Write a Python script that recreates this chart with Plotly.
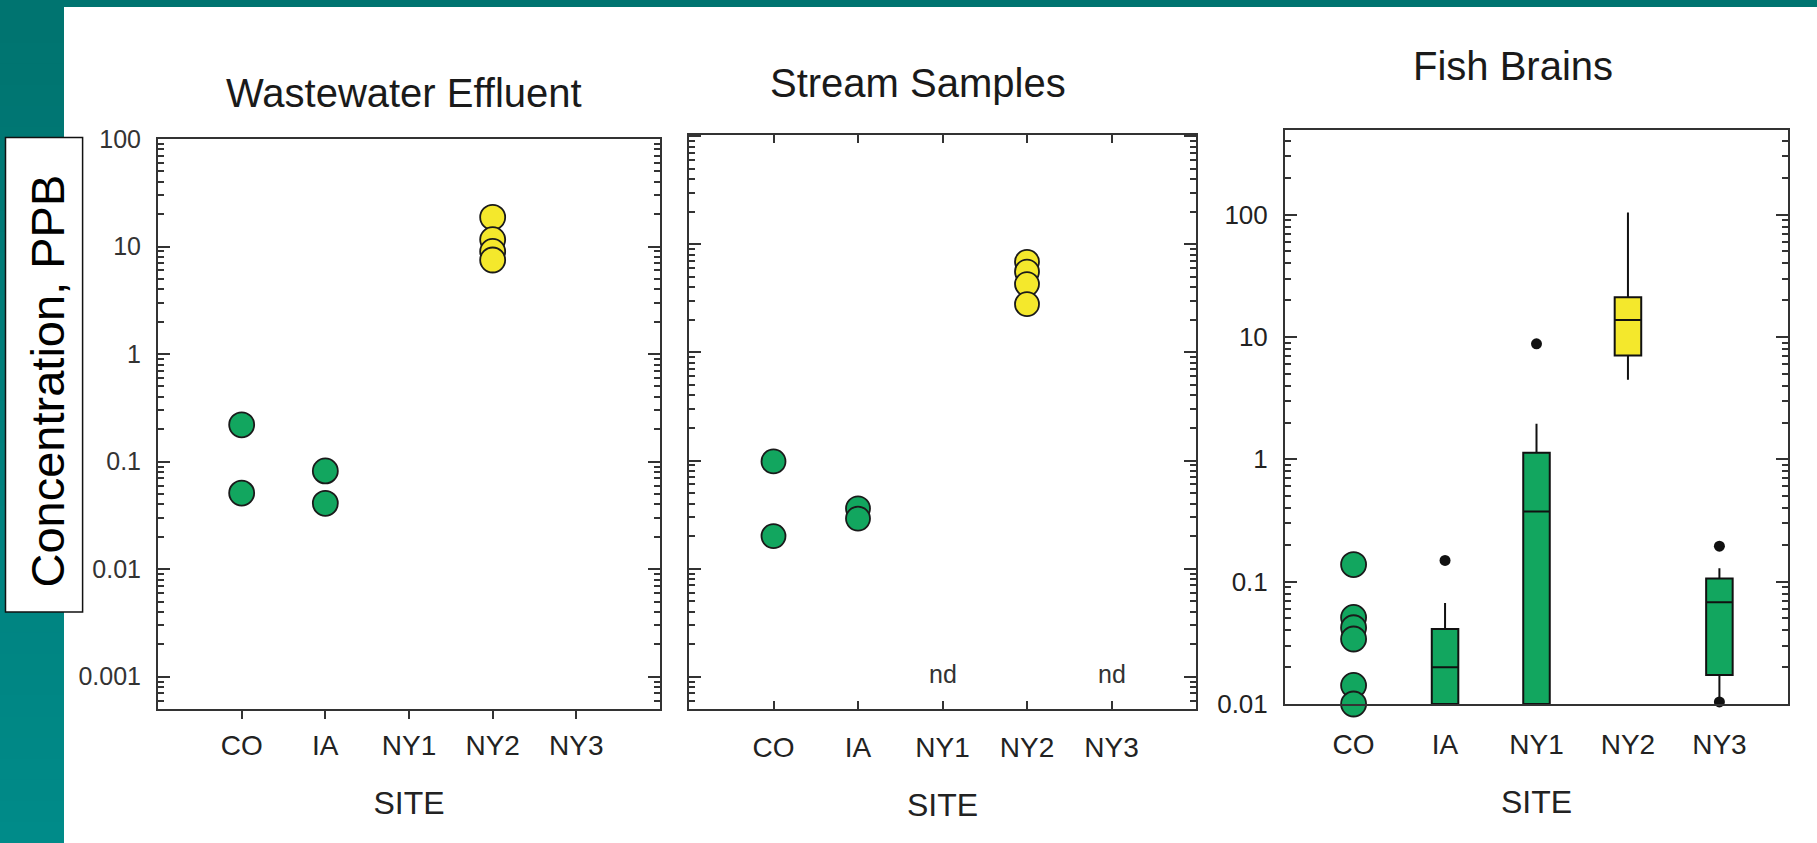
import numpy as np
import plotly.graph_objects as go

W, H = 1817, 843

sites = ["CO", "IA", "NY1", "NY2", "NY3"]

# ---- Wastewater effluent (ppb)
ww_co = [0.22, 0.051]
ww_ia = [0.082, 0.041]
ww_ny2 = [18.7, 11.6, 9.0, 7.5]

# ---- Stream samples (ppb)
st_co = [0.098, 0.020]
st_ia = [0.036, 0.029]
st_ny2 = [6.9, 5.6, 4.3, 2.8]
st_nd_sites = ["NY1", "NY3"]
st_nd_level = 0.00105

# ---- Fish brains (ppb)
fb_co = [0.138, 0.051, 0.042, 0.034, 0.0142, 0.0100]
fb_box_sites = ["IA", "NY1", "NY2", "NY3"]
fb_q1 = [0.01, 0.01, 7.05, 0.0173]
fb_median = [0.020, 0.375, 13.8, 0.068]
fb_q3 = [0.041, 1.13, 21.1, 0.106]
fb_lowerfence = [0.01, 0.01, 4.47, 0.0105]
fb_upperfence = [0.067, 1.95, 104.0, 0.129]
fb_out_sites = ["IA", "NY1", "NY3", "NY3"]
fb_out_vals = [0.149, 8.8, 0.195, 0.0104]

titles = ["Wastewater Effluent", "Stream Samples", "Fish Brains"]
ytitle = "Concentration, PPB"
xtitle = "SITE"

GREEN = "#12A65F"
YELLOW = "#F4E82C"
EDGE = "#1a1a1a"
AX = "#333333"
FONT = "Liberation Sans, Arial, sans-serif"


def site_color(s):
    return YELLOW if s == "NY2" else GREEN


def px(x):
    return x / W


def py(y):
    return 1 - y / H


fig = go.Figure()


def dots(xs_site, vals, xa, ya, size):
    fig.add_trace(go.Scatter(
        x=[xs_site] * len(vals), y=vals, mode="markers",
        xaxis=xa, yaxis=ya, cliponaxis=False, showlegend=False,
        marker=dict(size=size, color=site_color(xs_site),
                    line=dict(color=EDGE, width=1.8))))


# Panel 1
dots("CO", ww_co, "x", "y", 25)
dots("IA", ww_ia, "x", "y", 25)
dots("NY2", ww_ny2, "x", "y", 25)

# Panel 2
dots("CO", st_co, "x2", "y2", 24)
dots("IA", st_ia, "x2", "y2", 24)
dots("NY2", st_ny2, "x2", "y2", 24)

# Panel 3
dots("CO", fb_co, "x3", "y3", 25)
for i, s in enumerate(fb_box_sites):
    fig.add_trace(go.Box(
        x=[s], q1=[fb_q1[i]], median=[fb_median[i]], q3=[fb_q3[i]],
        lowerfence=[fb_lowerfence[i]], upperfence=[fb_upperfence[i]],
        xaxis="x3", yaxis="y3", boxpoints=False, whiskerwidth=0,
        width=0.29, fillcolor=site_color(s), showlegend=False,
        line=dict(color="#111111", width=2)))
fig.add_trace(go.Scatter(
    x=fb_out_sites, y=fb_out_vals, mode="markers", xaxis="x3", yaxis="y3",
    cliponaxis=False, showlegend=False,
    marker=dict(size=11, color="#111111")))

# ---- axes
minor_vals = [m * 10.0 ** d for d in range(-4, 3) for m in range(2, 10)]
major_lr = [0.001, 0.01, 0.1, 1, 10, 100]
major_lr_txt = ["0.001", "0.01", "0.1", "1", "10", "100"]
major_fb = [0.01, 0.1, 1, 10, 100]
major_fb_txt = ["0.01", "0.1", "1", "10", "100"]


def yax(dom, anchor, rng, tv, tt, show_labels=True):
    return dict(
        domain=dom, anchor=anchor, type="log", range=rng,
        tickmode="array", tickvals=tv, ticktext=tt,
        ticks="inside", ticklen=12, tickwidth=2, tickcolor=AX,
        mirror="ticks", showline=True, linewidth=2, linecolor=AX,
        showgrid=False, zeroline=False, showticklabels=show_labels,
        tickfont=dict(family=FONT, size=25, color=AX),
        ticklabelstandoff=10, automargin=False,
        minor=dict(tickmode="array", tickvals=minor_vals, ticks="inside",
                   ticklen=6, tickwidth=1.5, tickcolor=AX, showgrid=False))


def xax(dom, anchor, rng, ticks, mirror, standoff_lab, standoff_title):
    return dict(
        domain=dom, anchor=anchor, type="category", categoryorder="array",
        categoryarray=sites, tickmode="array", tickvals=sites, range=rng,
        ticks=ticks, ticklen=8, tickwidth=2, tickcolor=AX,
        showline=True, linewidth=2, linecolor=AX, mirror=mirror,
        showgrid=False, zeroline=False, automargin=False,
        tickfont=dict(family=FONT, size=28, color="#222222"),
        ticklabelstandoff=standoff_lab,
        title=dict(text=xtitle, font=dict(family=FONT, size=32, color="#222222"),
                   standoff=standoff_title))


d1x = [px(158), px(660)]
d2x = [px(689), px(1196)]
d3x = [px(1285), px(1788)]
d1y = [py(709), py(139)]
d2y = [py(709), py(135)]
d3y = [py(704), py(130)]

fig.update_layout(
    xaxis=xax(d1x, "y", [-1, 5], "outside", True, 2, 32),
    yaxis=yax(d1y, "x", [-3.30, 2.0], major_lr, major_lr_txt),
    xaxis4=dict(overlaying="x", anchor="y", side="top", type="category",
                categoryorder="array", categoryarray=sites, tickmode="array",
                tickvals=sites, range=[-1, 5], ticks="inside", ticklen=8,
                tickwidth=2, tickcolor=AX, showticklabels=False, automargin=False,
                showline=False, showgrid=False, zeroline=False),
    xaxis2=xax(d2x, "y2", [-1, 5], "inside", "ticks", 12, 32),
    yaxis2=yax(d2y, "x2", [-3.30, 2.013], major_lr, major_lr_txt, False),
    xaxis3=xax(d3x, "y3", [-0.75, 4.75], "", True, 14, 32),
    yaxis3=yax(d3y, "x3", [-2.0, 2.692], major_fb, major_fb_txt),
)
fig.layout.yaxis3.tickfont.color = "#222222"
fig.layout.yaxis3.tickfont.size = 26

# ---- decorations: teal frame of the slide
shapes = []
top_c = np.array([0, 116, 112])
bot_c = np.array([0, 139, 137])
nb = 40
for i in range(nb):
    c = top_c + (bot_c - top_c) * i / (nb - 1)
    shapes.append(dict(type="rect", xref="paper", yref="paper",
                       x0=0, x1=px(64), y0=py(H * (i + 1) / nb + 1), y1=py(H * i / nb),
                       fillcolor="rgb(%d,%d,%d)" % tuple(c), line=dict(width=0),
                       layer="below"))
shapes.append(dict(type="rect", xref="paper", yref="paper", x0=0, x1=1,
                   y0=py(7), y1=1, fillcolor="rgb(0,116,112)",
                   line=dict(width=0), layer="below"))
shapes.append(dict(type="rect", xref="paper", yref="paper",
                   x0=px(5.5), x1=px(82.6), y0=py(612), y1=py(137.6),
                   fillcolor="white", line=dict(color="#111111", width=1.5),
                   layer="below"))

annotations = []
title_pos = [(404, 93), (918, 83), (1513, 66)]
for t, (x, y) in zip(titles, title_pos):
    annotations.append(dict(text=t, xref="paper", yref="paper", x=px(x), y=py(y),
                            xanchor="center", yanchor="middle", showarrow=False,
                            font=dict(family=FONT, size=40, color="#1a1a1a")))
annotations.append(dict(text=ytitle, xref="paper", yref="paper", x=px(47), y=py(381.5),
                        xanchor="center", yanchor="middle", showarrow=False,
                        textangle=-90, font=dict(family=FONT, size=47, color="#000000")))
for s in st_nd_sites:
    annotations.append(dict(text="nd", xref="x2", yref="y2", x=s,
                            y=float(np.log10(st_nd_level)), showarrow=False,
                            xanchor="center", yanchor="middle",
                            font=dict(family=FONT, size=25, color="#333333")))

fig.update_layout(
    width=W, height=H, margin=dict(l=0, r=0, t=0, b=0, pad=0, autoexpand=False),
    paper_bgcolor="white", plot_bgcolor="white",
    shapes=shapes, annotations=annotations, showlegend=False,
    font=dict(family=FONT),
)

post = (
    "document.documentElement.style.margin='0';"
    "document.documentElement.style.overflow='hidden';"
    "document.body.style.margin='0';"
    "document.body.style.overflow='hidden';"
    "var g=document.getElementsByClassName('plotly-graph-div')[0];"
    "if(g){g.style.position='fixed';g.style.top='0px';g.style.left='0px';}"
)
fig.write_html("out.html", config={"displayModeBar": False}, post_script=post)
